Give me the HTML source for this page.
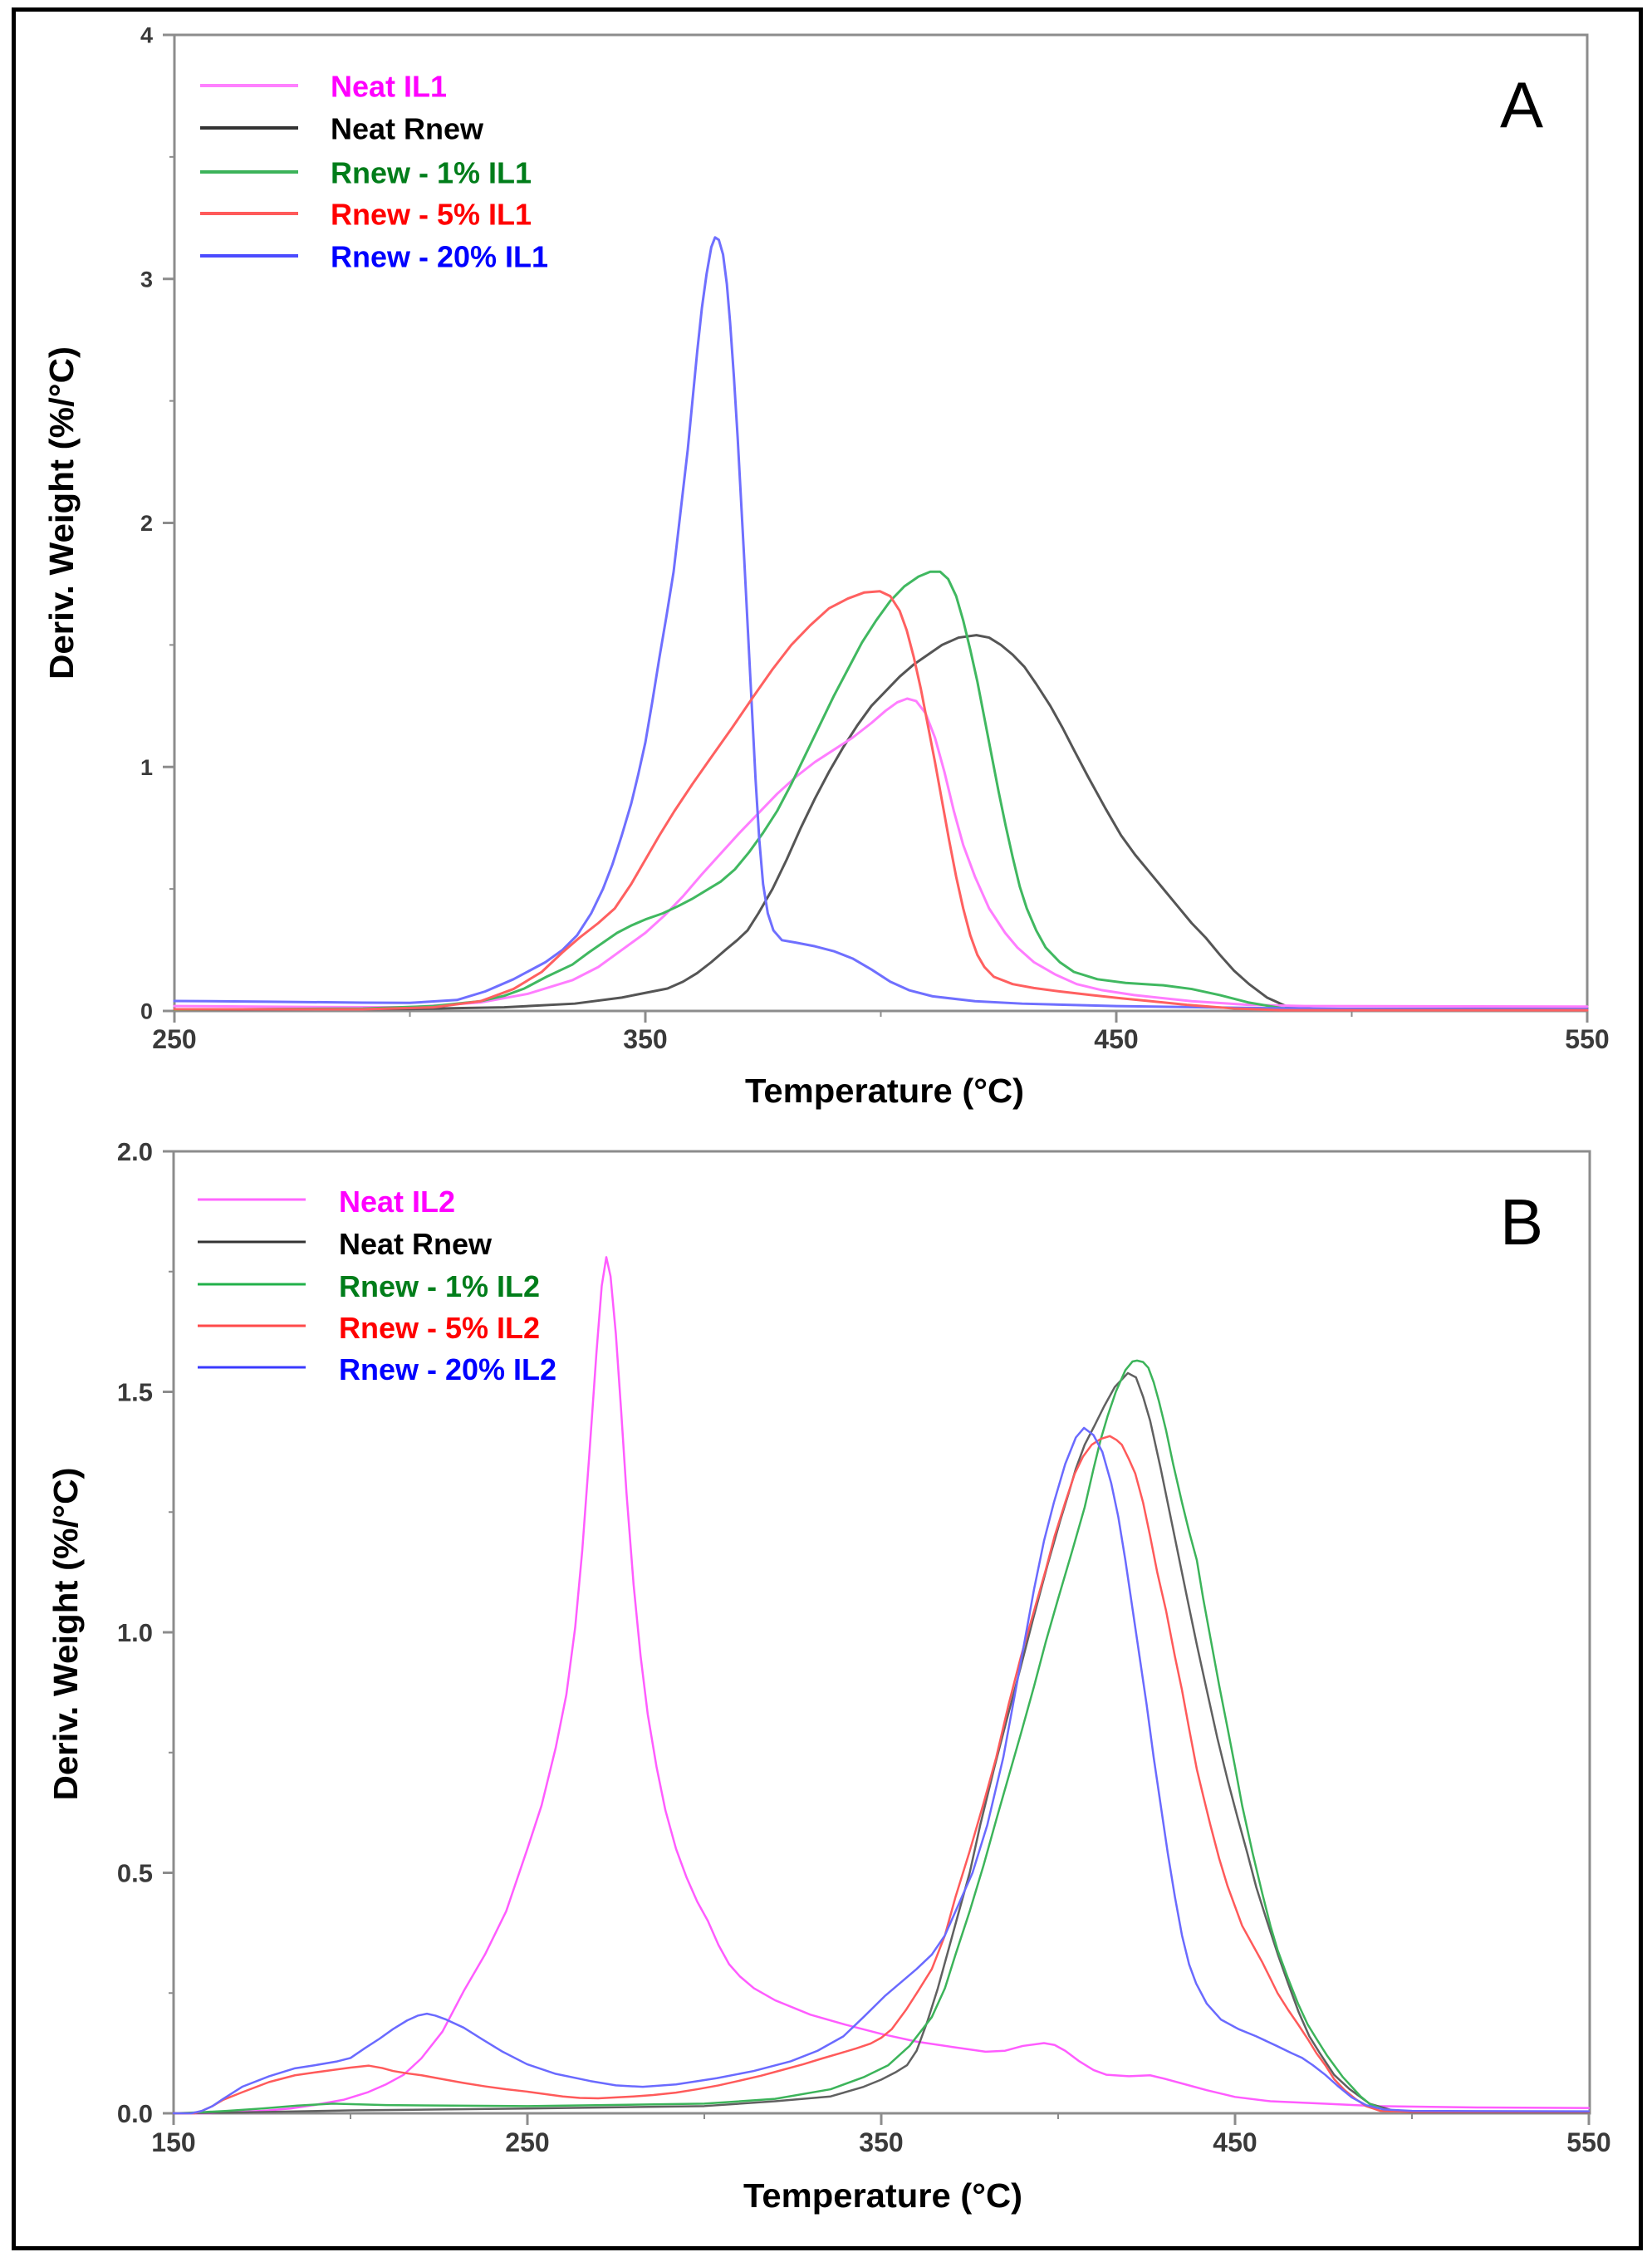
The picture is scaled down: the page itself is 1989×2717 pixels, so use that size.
<!DOCTYPE html>
<html>
<head>
<meta charset="utf-8">
<style>
html,body{margin:0;padding:0;background:#fff;}
svg{display:block;}
text{font-family:"Liberation Sans",Arial,sans-serif;}
.tk{font-weight:bold;fill:#3a3a3a;}
.lg{font-weight:bold;font-size:36px;}
.ax{font-weight:bold;font-size:41px;fill:#000;}
.c{fill:none;stroke-linejoin:round;stroke-linecap:round;vector-effect:non-scaling-stroke;}
</style>
</head>
<body>
<svg width="1989" height="2717" viewBox="0 0 1989 2717" xmlns="http://www.w3.org/2000/svg">
<rect x="0" y="0" width="1989" height="2717" fill="#fff"/>
<rect x="16.5" y="11.5" width="1959" height="2695" fill="none" stroke="#000" stroke-width="5"/>

<!-- ================= PLOT A ================= -->
<g stroke="#8c8c8c" stroke-width="3" fill="none">
<rect x="210" y="42" width="1701" height="1175"/>
<path d="M196 42H210M196 335.75H210M196 629.5H210M196 923.25H210M196 1217H210"/>
<path d="M204 188.9H210M204 482.6H210M204 776.4H210M204 1070.1H210" stroke-width="2"/>
<path d="M210 1217V1231M777 1217V1231M1344 1217V1231M1911 1217V1231"/>
<path d="M493.5 1217V1224M1060.5 1217V1224M1627.5 1217V1224" stroke-width="2"/>
</g>
<g class="tk" font-size="27" text-anchor="end">
<text x="184" y="51.5">4</text>
<text x="184" y="345.25">3</text>
<text x="184" y="639">2</text>
<text x="184" y="932.75">1</text>
<text x="184" y="1226.5">0</text>
</g>
<g class="tk" font-size="32" text-anchor="middle">
<text x="210" y="1262">250</text>
<text x="777" y="1262">350</text>
<text x="1344" y="1262">450</text>
<text x="1911" y="1262">550</text>
</g>
<text class="ax" x="1065" y="1327" text-anchor="middle" textLength="336" lengthAdjust="spacingAndGlyphs">Temperature (°C)</text>
<text class="ax" x="88" y="617.5" text-anchor="middle" textLength="401" lengthAdjust="spacingAndGlyphs" transform="rotate(-90 88 617.5)">Deriv. Weight (%/°C)</text>
<text x="1806" y="153" font-size="78" fill="#000">A</text>

<g stroke-width="4">
<line x1="241" y1="103" x2="359" y2="103" stroke="#ff80ff"/>
<line x1="241" y1="154" x2="359" y2="154" stroke="#333"/>
<line x1="241" y1="207" x2="359" y2="207" stroke="#3cb35a"/>
<line x1="241" y1="257" x2="359" y2="257" stroke="#ff5a5a"/>
<line x1="241" y1="308" x2="359" y2="308" stroke="#4b4bff"/>
</g>
<text class="lg" x="398" y="116.5" fill="#ff00ff">Neat IL1</text>
<text class="lg" x="398" y="167.5" fill="#000">Neat Rnew</text>
<text class="lg" x="398" y="220.5" fill="#007d1a">Rnew - 1% IL1</text>
<text class="lg" x="398" y="270.5" fill="#ff0000">Rnew - 5% IL1</text>
<text class="lg" x="398" y="321.5" fill="#0000ff">Rnew - 20% IL1</text>

<g transform="matrix(5.67 0 0 -293.75 -1207.5 1217)">
<polyline class="c" stroke="#555555" stroke-width="3" points="250,0.005 300,0.008 320,0.015 335,0.03 345,0.055 354.7,0.092 358,0.12 361,0.155 364,0.2 367,0.25 369.5,0.29 371.7,0.33 374,0.4 377,0.5 380,0.62 383,0.75 386,0.87 389,0.98 392,1.08 395,1.17 398,1.25 401,1.31 404,1.37 407,1.42 410,1.46 413,1.5 416.5,1.53 420.3,1.54 423,1.53 425.5,1.5 428,1.46 430.5,1.41 433,1.34 436,1.25 438.6,1.16 441,1.07 444,0.96 447.7,0.83 451,0.72 454,0.64 457,0.57 460,0.5 463,0.43 466,0.36 469,0.3 472,0.23 475,0.165 478.2,0.11 482,0.055 486,0.02 492,0.008 550,0.008"/>
<polyline class="c" stroke="#ff7dff" stroke-width="3" points="250,0.02 280,0.016 300,0.015 315,0.035 325,0.07 334.5,0.126 340,0.18 345,0.25 350,0.32 354,0.39 358,0.47 362,0.56 366,0.645 370,0.73 374,0.81 378,0.89 382,0.96 386,1.02 390,1.07 394,1.12 398,1.18 401,1.23 403.5,1.265 405.6,1.28 407.5,1.27 409.5,1.22 411.5,1.12 413.5,0.98 415.5,0.82 417.5,0.68 420,0.55 423,0.42 426.4,0.32 429,0.26 432.5,0.2 437,0.15 441.6,0.11 447,0.085 453.8,0.065 466,0.04 478,0.025 490,0.02 550,0.018"/>
<polyline class="c" stroke="#40b860" stroke-width="3" points="250,0.005 290,0.01 305,0.02 315,0.04 320,0.062 324.3,0.092 329,0.14 334.5,0.19 338,0.24 341,0.28 344,0.32 347,0.35 350,0.375 353.7,0.4 357,0.43 360,0.46 363,0.495 366,0.53 369,0.58 372,0.65 375,0.73 378,0.82 381,0.93 384,1.05 387,1.17 390,1.29 393,1.4 396,1.51 399,1.6 402,1.68 405,1.74 408,1.78 410.5,1.8 412.6,1.8 414.3,1.77 416,1.7 417.5,1.6 419,1.48 420.5,1.35 422,1.2 423.5,1.05 425,0.9 426.5,0.76 428,0.63 429.5,0.51 431,0.42 433,0.33 435,0.26 438,0.2 441,0.16 446,0.13 452,0.115 460,0.105 466,0.09 472,0.065 478,0.035 485,0.012 492,0.005 550,0.005"/>
<polyline class="c" stroke="#6f6fff" stroke-width="3" points="250,0.041 270,0.038 290,0.034 300,0.033 310,0.045 316,0.08 322,0.13 328.8,0.2 332.4,0.25 335.5,0.31 338.5,0.4 341,0.5 343,0.6 345,0.72 347,0.85 348.5,0.97 350,1.1 351.5,1.27 353,1.45 354.5,1.62 356,1.8 357.5,2.05 359,2.3 360,2.5 361,2.7 362,2.88 363,3.02 364,3.13 364.8,3.17 365.6,3.16 366.5,3.1 367.3,2.98 368,2.82 368.8,2.6 369.6,2.35 370.3,2.1 371,1.85 371.8,1.55 372.6,1.25 373.4,0.95 374.2,0.7 375,0.52 376,0.4 377.2,0.33 379,0.29 382,0.28 386,0.265 390,0.245 394,0.215 398,0.17 402,0.12 406,0.085 411,0.06 420,0.04 430,0.03 450,0.02 480,0.012 500,0.008 550,0.007"/>
<polyline class="c" stroke="#ff6060" stroke-width="3" points="250,0.007 290,0.007 305,0.015 315,0.04 322,0.09 328,0.16 332.4,0.24 336,0.3 340,0.36 343.5,0.42 347,0.52 350,0.62 353,0.72 356.2,0.82 360,0.93 364,1.04 368.4,1.16 373,1.29 377,1.4 381,1.5 385,1.58 389,1.65 393,1.69 396.5,1.715 399.8,1.72 402,1.7 404,1.64 405.5,1.56 407,1.45 408.5,1.32 410,1.17 411.5,1.02 413,0.86 414.5,0.7 416,0.55 417.5,0.42 419,0.31 420.5,0.23 422,0.18 424,0.14 428,0.11 432.5,0.094 438,0.08 444.7,0.065 451,0.052 456.9,0.041 465,0.025 475,0.01 485,0.003 550,0.003"/>
</g>

<!-- ================= PLOT B ================= -->
<g stroke="#8c8c8c" stroke-width="3" fill="none">
<rect x="209" y="1386" width="1705" height="1158"/>
<path d="M196 1386H209M196 1675.5H209M196 1965H209M196 2254.5H209M196 2544H209"/>
<path d="M203 1530.75H209M203 1820.25H209M203 2109.75H209M203 2399.25H209" stroke-width="2"/>
<path d="M209 2544V2558M635 2544V2558M1061 2544V2558M1487 2544V2558M1913 2544V2558"/>
<path d="M422 2544V2551M848 2544V2551M1274 2544V2551M1700 2544V2551" stroke-width="2"/>
</g>
<g class="tk" font-size="31" text-anchor="end">
<text x="184" y="1397">2.0</text>
<text x="184" y="1686.5">1.5</text>
<text x="184" y="1976">1.0</text>
<text x="184" y="2265.5">0.5</text>
<text x="184" y="2555">0.0</text>
</g>
<g class="tk" font-size="32" text-anchor="middle">
<text x="209" y="2590">150</text>
<text x="635" y="2590">250</text>
<text x="1061" y="2590">350</text>
<text x="1487" y="2590">450</text>
<text x="1913" y="2590">550</text>
</g>
<text class="ax" x="1063" y="2657" text-anchor="middle" textLength="336" lengthAdjust="spacingAndGlyphs">Temperature (°C)</text>
<text class="ax" x="93" y="1967" text-anchor="middle" textLength="401" lengthAdjust="spacingAndGlyphs" transform="rotate(-90 93 1967)">Deriv. Weight (%/°C)</text>
<text x="1806" y="1498" font-size="78" fill="#000">B</text>

<g stroke-width="3">
<line x1="238" y1="1444" x2="368" y2="1444" stroke="#ff66ff"/>
<line x1="238" y1="1495" x2="368" y2="1495" stroke="#333"/>
<line x1="238" y1="1546" x2="368" y2="1546" stroke="#22b04a"/>
<line x1="238" y1="1596" x2="368" y2="1596" stroke="#ff4a4a"/>
<line x1="238" y1="1646" x2="368" y2="1646" stroke="#3a3aff"/>
</g>
<text class="lg" x="408" y="1459" fill="#ff00ff">Neat IL2</text>
<text class="lg" x="408" y="1510" fill="#000">Neat Rnew</text>
<text class="lg" x="408" y="1561" fill="#007d1a">Rnew - 1% IL2</text>
<text class="lg" x="408" y="1611" fill="#ff0000">Rnew - 5% IL2</text>
<text class="lg" x="408" y="1661" fill="#0000ff">Rnew - 20% IL2</text>

<g transform="matrix(4.26 0 0 -579 -430 2544)">
<polyline class="c" stroke="#ff5cff" stroke-width="2.5" points="150,0 160,0 165,0.002 175,0.005 183,0.01 190,0.0175 198,0.028 205,0.044 210,0.06 215,0.08 220,0.114 226,0.17 232,0.254 238,0.33 244,0.42 250,0.55 254,0.64 258,0.76 261,0.87 263.5,1.01 265.5,1.17 267.5,1.37 269.5,1.58 271,1.72 272.3,1.78 273.5,1.74 275,1.62 276.5,1.46 278,1.29 280,1.1 282,0.95 284,0.83 286.5,0.72 289,0.63 292,0.55 295,0.49 298,0.44 301,0.4 304,0.35 307,0.31 310,0.285 314,0.26 320,0.235 330,0.205 340,0.184 350,0.165 360,0.149 370,0.138 379.5,0.128 385,0.13 390,0.14 396,0.146 399,0.142 402,0.13 406,0.108 410,0.09 413.7,0.08 420,0.077 426,0.079 430,0.072 436,0.06 442,0.048 450,0.034 460,0.025 475,0.02 490,0.015 520,0.012 550,0.011"/>
<polyline class="c" stroke="#606060" stroke-width="2.5" points="150,0 170,0.002 200,0.006 250,0.01 300,0.015 320,0.025 335.7,0.035 345,0.055 350,0.07 354,0.085 357.3,0.1 360,0.13 363,0.19 366,0.26 369,0.34 371.6,0.41 375,0.5 378,0.6 382,0.72 385.9,0.83 389.5,0.93 393,1.03 397,1.14 400.5,1.23 403,1.29 405,1.34 407.5,1.39 410.3,1.43 413,1.47 416,1.51 419.7,1.539 422,1.53 424,1.49 426,1.44 429,1.34 431.5,1.25 434,1.16 436.5,1.07 439.2,0.974 442,0.88 445,0.78 448,0.69 450.7,0.615 453.5,0.54 456,0.47 459,0.4 462.2,0.328 465,0.27 468,0.21 471,0.16 473.7,0.128 478,0.08 482.4,0.05 488,0.02 495,0.005 500,0.002 550,0.002"/>
<polyline class="c" stroke="#3cb45a" stroke-width="2.5" points="150,0 157,0.002 165,0.005 175,0.01 185,0.016 195,0.02 210,0.017 250,0.015 300,0.02 320,0.03 335.7,0.05 345,0.075 352,0.1 358,0.14 364.3,0.2 368,0.26 371,0.33 375,0.42 378.9,0.515 382.5,0.61 386,0.7 389.5,0.79 393.2,0.888 396.5,0.98 400,1.07 404,1.17 407.5,1.26 410,1.34 412,1.4 414,1.45 416.3,1.5 419,1.545 421,1.563 422.3,1.565 424,1.562 425.5,1.55 427,1.52 428.5,1.48 430.5,1.42 432.5,1.35 435,1.27 437,1.21 439.2,1.15 441,1.07 443,0.99 445.5,0.89 447.9,0.80 450,0.72 452,0.64 455,0.54 457.7,0.457 460,0.39 462,0.34 465,0.28 467.8,0.228 470.5,0.185 473,0.155 476,0.12 478,0.1 480.5,0.075 483,0.055 485.5,0.035 488,0.02 492,0.008 497,0.004 550,0.003"/>
<polyline class="c" stroke="#ff5a5a" stroke-width="2.5" points="150,0 156,0 158,0.005 161,0.015 164,0.028 169.5,0.044 177,0.065 184.3,0.079 190,0.085 195,0.09 200,0.095 205.2,0.099 209,0.094 212,0.088 216,0.083 220.1,0.079 226,0.071 232,0.063 238,0.056 243.9,0.05 250,0.045 255,0.04 260,0.035 264.8,0.032 270,0.031 275,0.033 280,0.035 285.6,0.038 292,0.043 298,0.05 304,0.058 309.5,0.067 316,0.078 322,0.09 328,0.102 333.3,0.114 338,0.124 343,0.135 347,0.145 350,0.157 353,0.175 357,0.215 360.5,0.255 364.3,0.30 368,0.37 371,0.45 375,0.545 378.9,0.644 382.5,0.74 386,0.85 389.5,0.95 393.2,1.045 396.5,1.13 399,1.2 402,1.27 404.7,1.33 407,1.365 409.5,1.39 412,1.402 414.6,1.408 416.5,1.4 418,1.39 420,1.36 421.8,1.33 424,1.27 426,1.2 428,1.125 430.5,1.045 433,0.95 435,0.88 437,0.8 439.2,0.715 441,0.66 443,0.6 445.5,0.53 447.9,0.472 450,0.43 452,0.39 455,0.35 457.7,0.314 460,0.28 462,0.25 465,0.215 467.8,0.185 470.5,0.155 473,0.125 475.5,0.1 478,0.071 481,0.048 484,0.03 487,0.015 491,0.005 500,0.003 550,0.003"/>
<polyline class="c" stroke="#6a6aff" stroke-width="2.5" points="150,0 155,0 158,0.005 161,0.015 164,0.03 169.5,0.0555 177,0.077 184.3,0.0935 190,0.1 196.3,0.108 200,0.115 204,0.135 208.2,0.155 212,0.175 216,0.193 219,0.203 221.6,0.207 224,0.203 227,0.195 232,0.178 237,0.155 243,0.128 249.9,0.102 258,0.082 267.8,0.067 275,0.058 282.6,0.055 292,0.06 303.5,0.073 314,0.088 324.4,0.108 332,0.13 339.3,0.16 345,0.2 351.2,0.245 356,0.275 360,0.3 364.3,0.33 368,0.37 371,0.42 375.8,0.5 380,0.6 384.5,0.74 389,0.92 393.2,1.09 396,1.19 398.8,1.27 402,1.35 405,1.405 407.3,1.425 410,1.41 412.5,1.375 415,1.31 417,1.24 419,1.15 421,1.05 423,0.95 425,0.85 427,0.74 429,0.64 431,0.54 433,0.45 435,0.37 437,0.31 439,0.27 442,0.228 446,0.195 451,0.175 456,0.16 461.8,0.14 466,0.125 469,0.115 472,0.1 475.5,0.08 479,0.057 483,0.033 487,0.017 492,0.008 500,0.005 550,0.004"/>
</g>
</svg>
</body>
</html>
